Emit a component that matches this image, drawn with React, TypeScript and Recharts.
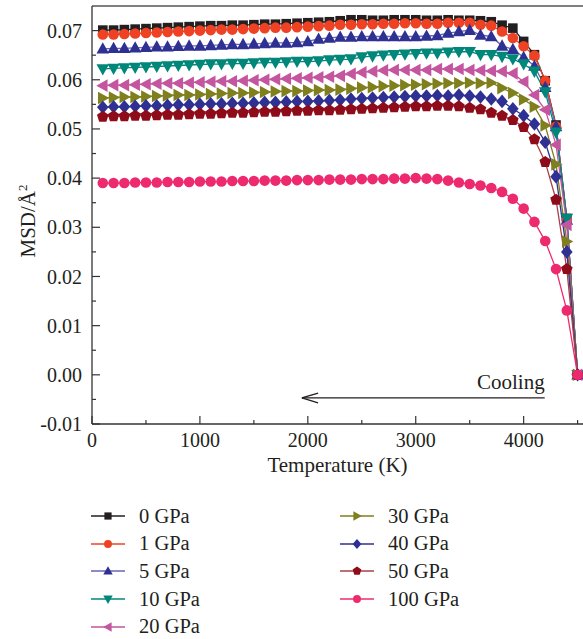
import React from "react";
import { LineChart, Line, XAxis, YAxis, ReferenceLine, Legend } from "recharts";

const FONT = "'Liberation Serif', 'DejaVu Serif', serif";
const TEXT = "#231f20";

// temperature (K), cooling run sampled every 100 K
const temperatures = [
  100, 200, 300, 400, 500, 600, 700, 800, 900, 1000,
  1100, 1200, 1300, 1400, 1500, 1600, 1700, 1800, 1900, 2000,
  2100, 2200, 2300, 2400, 2500, 2600, 2700, 2800, 2900, 3000,
  3100, 3200, 3300, 3400, 3500, 3600, 3700, 3800, 3900, 4000,
  4100, 4200, 4300, 4400, 4500,
];

// MSD (Å^2) per pressure
const msd0 = [
  0.0701, 0.0701, 0.0702, 0.0703, 0.0704, 0.0705, 0.0706, 0.0707, 0.0708, 0.0709,
  0.0710, 0.0710, 0.0711, 0.0711, 0.0712, 0.0713, 0.0713, 0.0714, 0.0715, 0.0716,
  0.0717, 0.0718, 0.0720, 0.0722, 0.0722, 0.0721, 0.0721, 0.0722, 0.0722, 0.0722,
  0.0721, 0.0721, 0.0722, 0.0721, 0.0721, 0.0720, 0.0718, 0.0711, 0.0705, 0.0678,
  0.0651, 0.0598, 0.0508, 0.0318, 0,
];
const msd1 = [
  0.0692, 0.0692, 0.0693, 0.0694, 0.0695, 0.0696, 0.0697, 0.0698, 0.0699, 0.0700,
  0.0701, 0.0702, 0.0702, 0.0703, 0.0704, 0.0705, 0.0706, 0.0706, 0.0707, 0.0708,
  0.0709, 0.0710, 0.0712, 0.0712, 0.0713, 0.0713, 0.0714, 0.0714, 0.0715, 0.0715,
  0.0714, 0.0714, 0.0716, 0.0716, 0.0716, 0.0712, 0.0710, 0.0698, 0.0685, 0.0668,
  0.0649, 0.0598, 0.0505, 0.0315, 0,
];
const msd5 = [
  0.0663, 0.0664, 0.0664, 0.0665, 0.0666, 0.0667, 0.0667, 0.0668, 0.0669, 0.0669,
  0.0670, 0.0671, 0.0672, 0.0672, 0.0673, 0.0674, 0.0675, 0.0675, 0.0676, 0.0678,
  0.0683, 0.0685, 0.0687, 0.0687, 0.0688, 0.0688, 0.0688, 0.0688, 0.0688, 0.0688,
  0.0689, 0.0690, 0.0695, 0.0698, 0.0701, 0.0691, 0.0688, 0.0669, 0.0662, 0.0646,
  0.0628, 0.0585, 0.0505, 0.0315, 0,
];
const msd10 = [
  0.0622, 0.0623, 0.0624, 0.0625, 0.0626, 0.0627, 0.0628, 0.0629, 0.0630, 0.0631,
  0.0632, 0.0632, 0.0633, 0.0633, 0.0634, 0.0635, 0.0635, 0.0636, 0.0637, 0.0637,
  0.0638, 0.0640, 0.0641, 0.0642, 0.0646, 0.0648, 0.0650, 0.0651, 0.0652, 0.0653,
  0.0654, 0.0654, 0.0656, 0.0657, 0.0657, 0.0651, 0.0651, 0.0647, 0.0642, 0.0632,
  0.0617, 0.0575, 0.0493, 0.0318, 0,
];
const msd20 = [
  0.0588, 0.0589, 0.0589, 0.0590, 0.0591, 0.0592, 0.0593, 0.0593, 0.0594, 0.0595,
  0.0596, 0.0597, 0.0597, 0.0598, 0.0599, 0.0600, 0.0601, 0.0602, 0.0603, 0.0604,
  0.0605, 0.0606, 0.0608, 0.0612, 0.0615, 0.0617, 0.0619, 0.0620, 0.0620, 0.0620,
  0.0620, 0.0622, 0.0622, 0.0622, 0.0620, 0.0619, 0.0618, 0.0617, 0.0613, 0.0596,
  0.0569, 0.0539, 0.0468, 0.0305, 0,
];
const msd30 = [
  0.0563, 0.0564, 0.0565, 0.0565, 0.0566, 0.0567, 0.0568, 0.0569, 0.0569, 0.0570,
  0.0571, 0.0572, 0.0573, 0.0573, 0.0574, 0.0575, 0.0576, 0.0577, 0.0577, 0.0578,
  0.0579, 0.0579, 0.0580, 0.0582, 0.0584, 0.0585, 0.0587, 0.0588, 0.0589, 0.0590,
  0.0591, 0.0592, 0.0593, 0.0593, 0.0594, 0.0593, 0.0594, 0.0583, 0.0573, 0.0560,
  0.0545, 0.0507, 0.0428, 0.0271, 0,
];
const msd40 = [
  0.0544, 0.0545, 0.0545, 0.0546, 0.0547, 0.0547, 0.0548, 0.0549, 0.0549, 0.0550,
  0.0551, 0.0551, 0.0552, 0.0552, 0.0553, 0.0554, 0.0554, 0.0555, 0.0556, 0.0556,
  0.0557, 0.0558, 0.0559, 0.0561, 0.0562, 0.0563, 0.0564, 0.0565, 0.0566, 0.0567,
  0.0567, 0.0568, 0.0567, 0.0569, 0.0567, 0.0565, 0.0561, 0.0556, 0.0541, 0.0527,
  0.0510, 0.0473, 0.0403, 0.0250, 0,
];
const msd50 = [
  0.0525, 0.0526, 0.0526, 0.0527, 0.0527, 0.0528, 0.0529, 0.0529, 0.0530, 0.0531,
  0.0531, 0.0532, 0.0533, 0.0533, 0.0534, 0.0535, 0.0535, 0.0536, 0.0537, 0.0537,
  0.0538, 0.0538, 0.0539, 0.0540, 0.0541, 0.0542, 0.0543, 0.0544, 0.0545, 0.0546,
  0.0546, 0.0547, 0.0547, 0.0546, 0.0543, 0.0540, 0.0533, 0.0527, 0.0518, 0.0504,
  0.0479, 0.0433, 0.0356, 0.0215, 0,
];
const msd100 = [
  0.0390, 0.0390, 0.0390, 0.0391, 0.0391, 0.0391, 0.0392, 0.0392, 0.0392, 0.0393,
  0.0393, 0.0393, 0.0394, 0.0394, 0.0394, 0.0395, 0.0395, 0.0395, 0.0396, 0.0396,
  0.0396, 0.0397, 0.0397, 0.0397, 0.0398, 0.0398, 0.0398, 0.0399, 0.0399, 0.0400,
  0.0399, 0.0398, 0.0395, 0.0391, 0.0388, 0.0385, 0.0380, 0.0372, 0.0358, 0.0338,
  0.0311, 0.0272, 0.0215, 0.0131, 0,
];

const xMajorTicks = [0, 1000, 2000, 3000, 4000];
const xMinorTicks = [500, 1500, 2500, 3500, 4500];
const yMajorTicks = [-0.01, 0, 0.01, 0.02, 0.03, 0.04, 0.05, 0.06, 0.07];
const yMinorTicks = [-0.005, 0.005, 0.015, 0.025, 0.035, 0.045, 0.055, 0.065];

const series = [
  { key: "p0", name: "0 GPa", values: msd0, color: "#231f20", line: "#231f20", shape: "square" },
  { key: "p1", name: "1 GPa", values: msd1, color: "#ef4123", line: "#ef4123", shape: "circle" },
  { key: "p5", name: "5 GPa", values: msd5, color: "#2e3192", line: "#6a63b6", shape: "up" },
  { key: "p10", name: "10 GPa", values: msd10, color: "#00877a", line: "#00877a", shape: "down" },
  { key: "p20", name: "20 GPa", values: msd20, color: "#c4559f", line: "#c4559f", shape: "left" },
  { key: "p30", name: "30 GPa", values: msd30, color: "#7f7f1e", line: "#7f7f1e", shape: "right" },
  { key: "p40", name: "40 GPa", values: msd40, color: "#2e3192", line: "#2e3192", shape: "diamond" },
  { key: "p50", name: "50 GPa", values: msd50, color: "#8e0b1a", line: "#a8404a", shape: "pentagon" },
  { key: "p100", name: "100 GPa", values: msd100, color: "#ee2a6f", line: "#ee2a6f", shape: "circle" },
];

const data = temperatures.map((t, i) => {
  const row: Record<string, number> = { T: t };
  series.forEach((s) => {
    row[s.key] = s.values[i];
  });
  return row;
});

const poly = (cx: number, cy: number, pts: number[][], k: number) =>
  pts.map(([x, y]) => `${cx + x * k},${cy + y * k}`).join(" ");

const Marker = ({ shape, cx, cy, color, k = 1 }: any) => {
  if (cx == null || cy == null) return null;
  switch (shape) {
    case "square":
      return <rect x={cx - 4.8 * k} y={cy - 4.8 * k} width={9.6 * k} height={9.6 * k} fill={color} />;
    case "circle":
      return <circle cx={cx} cy={cy} r={5.3 * k} fill={color} />;
    case "up":
      return <polygon points={poly(cx, cy, [[0, -6.5], [6.3, 4.8], [-6.3, 4.8]], k)} fill={color} />;
    case "down":
      return <polygon points={poly(cx, cy, [[0, 6.5], [6.3, -4.8], [-6.3, -4.8]], k)} fill={color} />;
    case "left":
      return <polygon points={poly(cx, cy, [[-6.5, 0], [4.8, -6.3], [4.8, 6.3]], k)} fill={color} />;
    case "right":
      return <polygon points={poly(cx, cy, [[6.5, 0], [-4.8, -6.3], [-4.8, 6.3]], k)} fill={color} />;
    case "diamond":
      return <polygon points={poly(cx, cy, [[0, -6.8], [5.8, 0], [0, 6.8], [-5.8, 0]], k)} fill={color} />;
    case "pentagon":
      return (
        <polygon
          points={poly(cx, cy, [[0, -6], [5.8, -1.9], [3.6, 5], [-3.6, 5], [-5.8, -1.9]], k)}
          fill={color}
        />
      );
    default:
      return null;
  }
};

const XTick = (props: any) => {
  const { x, y, payload } = props;
  const major = xMajorTicks.includes(payload.value);
  const axisY = y - 9;
  return (
    <g>
      <line x1={x} x2={x} y1={axisY} y2={axisY - (major ? 8 : 4)} stroke="#333" strokeWidth={1.2} />
      {major && (
        <text x={x} y={y} dy="0.71em" textAnchor="middle" fill={TEXT} fontSize={20} fontFamily={FONT}>
          {payload.value}
        </text>
      )}
    </g>
  );
};

const YTick = (props: any) => {
  const { x, y, payload } = props;
  const major = yMajorTicks.some((v) => Math.abs(v - payload.value) < 1e-9);
  const axisX = x + 10;
  return (
    <g>
      <line x1={axisX} x2={axisX + (major ? 8 : 4)} y1={y} y2={y} stroke="#333" strokeWidth={1.2} />
      {major && (
        <text x={x} y={y} dy="0.36em" textAnchor="end" fill={TEXT} fontSize={20} fontFamily={FONT}>
          {payload.value.toFixed(2)}
        </text>
      )}
    </g>
  );
};

const renderLegend = () => (
  <div style={{ position: "relative", width: 583, height: 140, fontFamily: FONT, fontSize: 20.5, color: TEXT }}>
    {series.map((s, i) => {
      const col = i < 5 ? 0 : 1;
      const row = i < 5 ? i : i - 5;
      return (
        <div
          key={s.key}
          style={{
            position: "absolute",
            left: col === 0 ? 91 : 340,
            top: row * 27.7,
            height: 24,
            display: "flex",
            alignItems: "center",
            whiteSpace: "nowrap",
          }}
        >
          <svg width={34} height={16} style={{ display: "block" }}>
            <line x1={0} y1={8} x2={34} y2={8} stroke={s.line} strokeWidth={1.6} />
            <Marker shape={s.shape} cx={17} cy={8} color={s.color} k={0.75} />
          </svg>
          <span style={{ marginLeft: 14 }}>{s.name}</span>
        </div>
      );
    })}
  </div>
);

export default function App() {
  return (
    <div style={{ position: "absolute", left: 0, top: 0, background: "#fff" }}>
      <LineChart
        width={583}
        height={639}
        data={data}
        margin={{ top: 6, right: 0, left: 0, bottom: 159 }}
      >
        <XAxis
          dataKey="T"
          type="number"
          domain={[0, 4550]}
          ticks={[...xMajorTicks, ...xMinorTicks].sort((a, b) => a - b)}
          interval={0}
          height={56}
          tickSize={0}
          tickMargin={9}
          tickLine={false}
          tick={<XTick />}
          axisLine={{ stroke: "#333", strokeWidth: 1.3 }}
          label={(props: any) => {
            const vb = props.viewBox;
            return (
              <text
                x={vb.x + vb.width / 2}
                y={vb.y + 48}
                textAnchor="middle"
                fill={TEXT}
                fontSize={21}
                fontFamily={FONT}
              >
                Temperature (K)
              </text>
            );
          }}
        />
        <YAxis
          type="number"
          domain={[-0.01, 0.075]}
          ticks={[...yMajorTicks, ...yMinorTicks].sort((a, b) => a - b)}
          interval={0}
          width={92}
          tickSize={0}
          tickMargin={10}
          tickLine={false}
          tick={<YTick />}
          axisLine={{ stroke: "#333", strokeWidth: 1.3 }}
          allowDataOverflow
          label={(props: any) => {
            const vb = props.viewBox;
            const cx = vb.x + 27;
            const cy = vb.y + vb.height / 2 + 6;
            return (
              <text
                transform={`rotate(-90 ${cx} ${cy})`}
                x={cx}
                y={cy}
                dy="0.36em"
                textAnchor="middle"
                fill={TEXT}
                fontSize={21}
                fontFamily={FONT}
              >
                MSD/Å
                <tspan dy={-8} fontSize={13}>
                  2
                </tspan>
              </text>
            );
          }}
        />
        <ReferenceLine y={0.075} stroke="#555" strokeWidth={1.3} />
        <ReferenceLine
          segment={[
            { x: 1945, y: -0.0047 },
            { x: 4195, y: -0.0047 },
          ]}
          stroke="#231f20"
          strokeWidth={1.3}
          label={(props: any) => {
            const vb = props.viewBox;
            return (
              <text
                x={vb.x + vb.width}
                y={vb.y - 9}
                textAnchor="end"
                fill={TEXT}
                fontSize={21}
                fontFamily={FONT}
              >
                Cooling
              </text>
            );
          }}
        />
        <ReferenceLine
          segment={[
            { x: 1945, y: -0.0047 },
            { x: 2095, y: -0.0037 },
          ]}
          stroke="#231f20"
          strokeWidth={1.3}
        />
        <ReferenceLine
          segment={[
            { x: 1945, y: -0.0047 },
            { x: 2095, y: -0.0057 },
          ]}
          stroke="#231f20"
          strokeWidth={1.3}
        />
        {series.map((s) => (
          <Line
            key={s.key}
            dataKey={s.key}
            name={s.name}
            stroke={s.line}
            strokeWidth={1.3}
            isAnimationActive={false}
            dot={(p: any) => (
              <Marker key={`${s.key}-${p.index}`} shape={s.shape} cx={p.cx} cy={p.cy} color={s.color} />
            )}
            activeDot={false}
          />
        ))}
        <Legend
          layout="horizontal"
          verticalAlign="middle"
          align="center"
          content={renderLegend}
          wrapperStyle={{ top: 504, left: 0, width: 583, height: 140 }}
        />
      </LineChart>
    </div>
  );
}
